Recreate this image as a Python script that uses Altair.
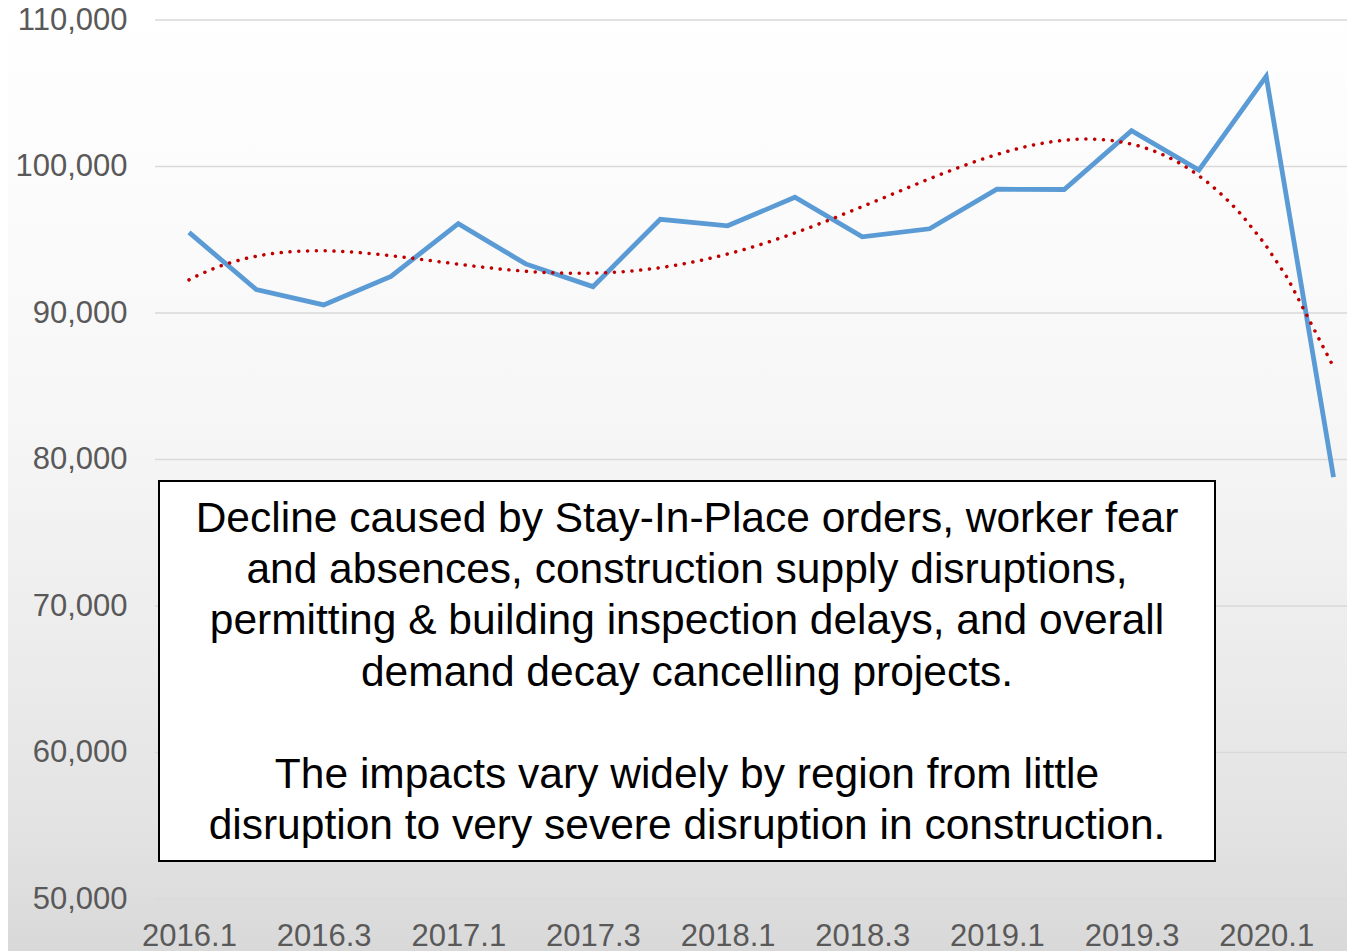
import altair as alt
import pandas as pd

quarters = ['2016.1', '2016.2', '2016.3', '2016.4',
            '2017.1', '2017.2', '2017.3', '2017.4',
            '2018.1', '2018.2', '2018.3', '2018.4',
            '2019.1', '2019.2', '2019.3', '2019.4',
            '2020.1', '2020.2']
starts = [95500, 91600, 90550, 92500,
          96100, 93350, 91800, 96400,
          95950, 97900, 95200, 95750,
          98450, 98430, 102450, 99750,
          106150, 78800]
y_ticks = [50000, 60000, 70000, 80000, 90000, 100000, 110000]
x_label_idx = list(range(0, len(quarters), 2))
note_lines = [
    "Decline caused by Stay-In-Place orders, worker fear",
    "and absences, construction supply disruptions,",
    "permitting & building inspection delays, and overall",
    "demand decay cancelling projects.",
    "",
    "The impacts vary widely by region from little",
    "disruption to very severe disruption in construction.",
]

W, H = 1192, 879
FONT = "Liberation Sans"

df = pd.DataFrame({"idx": list(range(len(quarters))), "quarter": quarters, "value": starts})
grid_df = pd.DataFrame({"value": y_ticks})
one_df = pd.DataFrame({"k": [0]})

xscale = alt.Scale(domain=[-0.505, 17.2], nice=False, zero=False)
yscale = alt.Scale(domain=[50000, 110000], nice=False, zero=False)
label_expr = "[" + ",".join(f"'{q}'" for q in quarters) + "][datum.value]"

x_axis = alt.Axis(values=x_label_idx, labelExpr=label_expr, grid=False, ticks=False,
                  domain=False, labelFontSize=31, labelColor="#595959", labelFont=FONT,
                  labelPadding=22, labelFlush=False, labelOverlap=False, zindex=1)
y_axis = alt.Axis(values=y_ticks, format=",d", grid=False, ticks=False, domain=False,
                  labelFontSize=31, labelColor="#595959", labelFont=FONT,
                  labelPadding=28, labelOverlap=False, zindex=1)

bg = alt.Chart(one_df).mark_rect(
    color=alt.LinearGradient(
        gradient="linear",
        stops=[
            alt.GradientStop(color="#ffffff", offset=0),
            alt.GradientStop(color="#f7f7f7", offset=0.42),
            alt.GradientStop(color="#ebebeb", offset=0.70),
            alt.GradientStop(color="#e3e3e3", offset=0.86),
            alt.GradientStop(color="#d8d8d8", offset=1),
        ],
        x1=0, x2=0, y1=0, y2=1,
    )
).encode(x=alt.value(-160), x2=alt.value(W + 20), y=alt.value(-20), y2=alt.value(H + 60))

grid = alt.Chart(grid_df).mark_rule(color="#d9d9d9", strokeWidth=1.5).encode(
    y=alt.Y("value:Q", scale=yscale, title=None, axis=y_axis)
)

line = alt.Chart(df).mark_line(color="#5b9bd5", strokeWidth=4.8).encode(
    x=alt.X("idx:Q", scale=xscale, title=None, axis=x_axis),
    y=alt.Y("value:Q", scale=yscale, title=None, axis=y_axis),
)

trend = alt.Chart(df).transform_regression(
    "idx", "value", method="poly", order=4
).mark_line(color="#c00000", strokeWidth=3.5, strokeDash=[0.1, 8.7], strokeCap="round").encode(
    x=alt.X("idx:Q", scale=xscale, title=None, axis=x_axis),
    y=alt.Y("value:Q", scale=yscale, title=None, axis=y_axis),
)

box = alt.Chart(one_df).mark_rect(fill="white", stroke="black", strokeWidth=2).encode(
    x=alt.value(4), x2=alt.value(1060), y=alt.value(461), y2=alt.value(841)
)

first_baseline = 512
line_step = 51.2
note_layers = []
for i, txt in enumerate(note_lines):
    if not txt:
        continue
    note_layers.append(
        alt.Chart(one_df).mark_text(
            text=txt, align="center", baseline="alphabetic", fontSize=42.5,
            font=FONT, color="black"
        ).encode(x=alt.value(532), y=alt.value(first_baseline + i * line_step))
    )

chart = alt.layer(bg, grid, line, trend, box, *note_layers).properties(
    width=W, height=H,
    autosize=alt.AutoSizeParams(type="none"),
    padding={"left": 147, "top": 12, "right": 0, "bottom": 52},
).configure_view(stroke=None)

chart.save("out.html", embed_options={"renderer": "svg", "actions": False})
